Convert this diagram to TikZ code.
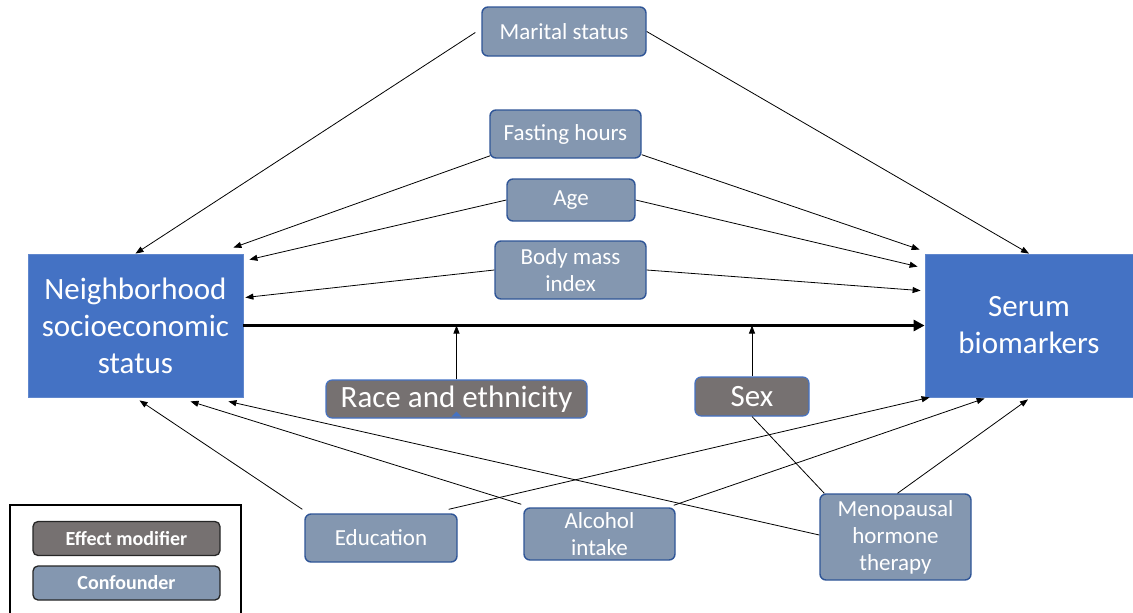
\documentclass[tikz,border=0pt]{standalone}
\usepackage{fontspec}
\setmainfont{Carlito}
\usetikzlibrary{arrows.meta,calc}
\definecolor{mainblue}{HTML}{4472C4}
\definecolor{confill}{HTML}{8497B0}
\definecolor{conedge}{HTML}{2F5597}
\definecolor{modfill}{HTML}{767171}
\begin{document}
\begin{tikzpicture}[x=1pt,y=-1pt,
  outcome/.style={rectangle, fill=mainblue, draw=mainblue!85!white, line width=0.8pt,
    text=white, align=center, inner sep=0pt, font=\fontsize{31}{37}\selectfont},
  confounder/.style={rectangle, rounded corners=6pt, fill=confill, draw=conedge,
    line width=1.4pt, text=white, align=center, inner sep=0pt,
    font=\fontsize{23}{27}\selectfont},
  modifier/.style={rectangle, rounded corners=6pt, fill=modfill, draw=mainblue,
    line width=1.1pt, text=white, align=center, inner sep=0pt,
    font=\fontsize{31}{35}\selectfont},
  keybox/.style={rectangle, rounded corners=5pt, draw=black!85, line width=1.3pt,
    text=white, inner sep=0pt, minimum width=187pt, minimum height=34pt,
    font=\bfseries\fontsize{20}{24}\selectfont},
  link/.style={draw=black, line width=0.8pt, -{Triangle[length=8pt,width=6pt]}},
  plain/.style={draw=black, line width=0.8pt},
  mainlink/.style={draw=black, line width=3.5pt, -{Triangle[length=11pt,width=11pt]}}
]
\useasboundingbox (0,0) rectangle (1133,613);

% exposure and outcome
\node[outcome, minimum width=215pt, minimum height=143pt] (nses) at (135.5,325.5)
  {Neighborhood\\socioeconomic\\status};
\node[outcome, minimum width=208pt, minimum height=143pt] (serum) at (1029,325.5)
  {Serum\\biomarkers};

% confounders
\node[confounder, minimum width=164pt, minimum height=49pt] (marital) at (564,31.5) {Marital status};
\node[confounder, minimum width=151pt, minimum height=48pt] (fasting) at (565.5,134) {Fasting hours};
\node[confounder, minimum width=128pt, minimum height=42pt] (age) at (571,200) {Age};
\node[confounder, minimum width=151pt, minimum height=58pt] (bmi) at (570.5,270) {Body mass\\index};
\node[confounder, minimum width=152pt, minimum height=48pt] (edu) at (381,538) {Education};
\node[confounder, minimum width=151pt, minimum height=52pt] (alc) at (599.5,534) {Alcohol\\intake};
\node[confounder, minimum width=151pt, minimum height=86pt] (mht) at (895.5,537) {Menopausal\\hormone\\therapy};

% effect modifiers
\node[modifier, minimum width=261pt, minimum height=38pt] (race) at (456.5,399) {Race and ethnicity};
\node[modifier, minimum width=114pt, minimum height=39pt] (sex) at (752,396.5) {Sex};
\fill[mainblue] ($(race.south)+(-5,-2)$) -- ($(race.south)+(0,-7)$) -- ($(race.south)+(5,-2)$) -- cycle;

% main effect
\draw[mainlink] (nses.east) -- (serum.west);
\draw[link] (race.north) -- (race.north |- nses.east);
\draw[link] (sex.north) -- (sex.north |- nses.east);

% paths into the exposure
\draw[link] ($(marital.west)+(-6,1)$) -- (nses.north);
\draw[link] ($(fasting.south west)+(1,-3)$) -- ($(nses.north east)+(-10,-6)$);
\draw[link] (age.west) -- ($(nses.north east)+(6,6)$);
\draw[link] (bmi.west) -- ($(nses.east)+(2,-28)$);
\draw[link] ($(edu.north west)+(-2,-4)$) -- ($(nses.south)+(4,3)$);
\draw[link] ($(alc.north west)+(-2,-3)$) -- ($(nses.south)+(55,4)$);
\draw[link] ($(mht.west)+(0,-2)$) -- ($(nses.south east)+(-15,4)$);

% paths into the outcome
\draw[link] (marital.east) -- (serum.north);
\draw[link] ($(fasting.south east)+(0,-4)$) -- ($(serum.north west)+(-5,-4)$);
\draw[link] (age.east) -- ($(serum.north west)+(-7,13)$);
\draw[link] (bmi.east) -- ($(serum.north west)+(-4,37)$);
\draw[link] ($(edu.north east)+(-9,-4)$) -- ($(serum.south west)+(5,0)$);
\draw[link] ($(alc.north east)+(-2,-2)$) -- ($(serum.south west)+(60,1)$);
\draw[link] ($(mht.north)+(2,0)$) -- ($(serum.south)+(-1,2)$);

% sex and hormone therapy
\draw[plain] (sex.south) -- ($(mht.north west)+(5,0)$);

% key
\node[draw=black, line width=1.6pt, minimum width=231pt, minimum height=112pt, inner sep=0pt]
  (key) at (125.5,561) {};
\node[keybox, fill=modfill] (keymod) at (126.5,538.5) {Effect modifier};
\node[keybox, fill=confill] (keycon) at (126.5,583) {Confounder};
\end{tikzpicture}
\end{document}
